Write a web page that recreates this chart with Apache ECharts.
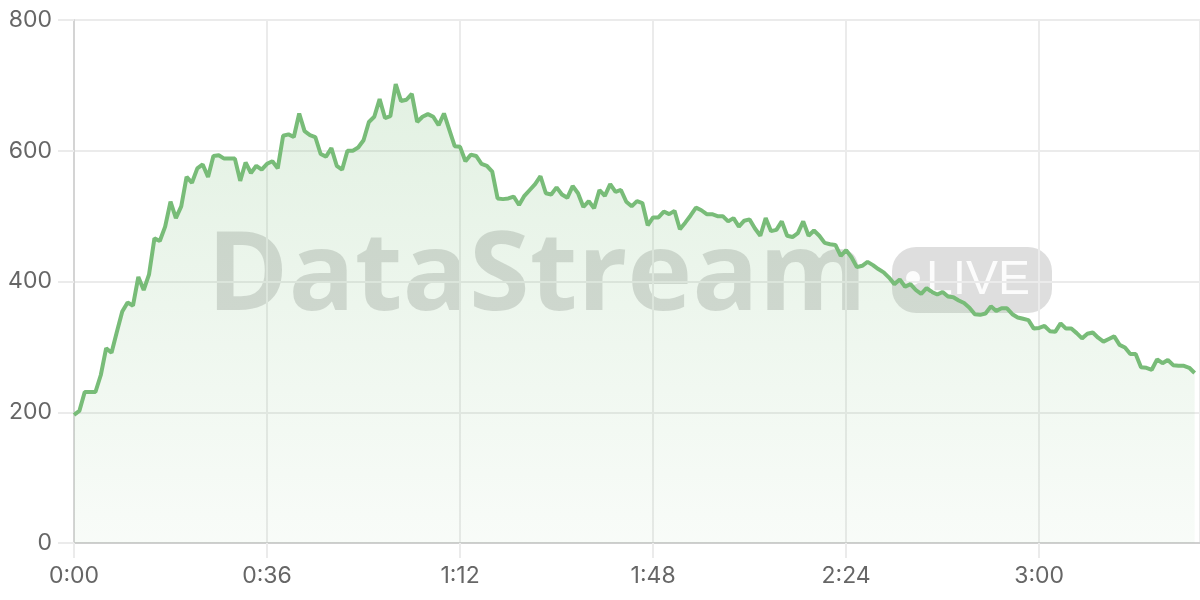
<!DOCTYPE html>
<html>
<head>
	<meta charset="utf-8">
	<title>DataStream</title>
	<script src="https://cdn.jsdelivr.net/npm/echarts@6/dist/echarts.min.js"></script>
	<style>
		html, body { margin: 0; padding: 0; background: #fff; }
	</style>
</head>
<body>
	<div id="main" style="width: 1200px; height: 600px;"></div>
	<script type="text/javascript">
		// viewers per second, 0:00 .. 3:29
		var viewers = [
			196, 202, 231, 231, 231, 257, 298, 291, 323, 354,
			368, 363, 407, 387, 411, 466, 462, 484, 522, 497,
			515, 560, 551, 573, 579, 560, 592, 593, 588, 588,
			588, 554, 582, 566, 577, 571, 580, 584, 573, 623,
			625, 621, 657, 630, 624, 621, 595, 591, 604, 577,
			571, 600, 600, 605, 616, 644, 652, 679, 650, 653,
			702, 676, 678, 687, 644, 652, 656, 652, 639, 657,
			632, 607, 606, 584, 594, 592, 580, 577, 568, 527,
			526, 527, 530, 517, 531, 540, 549, 561, 535, 533,
			544, 533, 528, 546, 535, 514, 523, 512, 540, 531,
			549, 537, 540, 522, 515, 523, 520, 486, 498, 498,
			507, 503, 508, 480, 490, 501, 513, 509, 503, 503,
			500, 500, 492, 497, 484, 493, 495, 481, 470, 497,
			477, 479, 492, 470, 468, 474, 492, 470, 478, 470,
			459, 457, 456, 439, 448, 437, 422, 424, 430, 425,
			419, 414, 406, 396, 403, 392, 396, 387, 381, 390,
			384, 380, 384, 377, 376, 371, 367, 360, 350, 349,
			351, 362, 355, 359, 359, 350, 345, 343, 341, 328,
			329, 332, 324, 323, 336, 328, 328, 321, 313, 320,
			322, 314, 308, 312, 316, 303, 299, 289, 289, 269,
			268, 265, 281, 275, 280, 272, 271, 271, 268, 260
		];
		// x axis: seconds, ticks every 36s
		var xMax = 210;
		var xStep = 36;
		// y axis
		var yMax = 800;
		var yStep = 200;

		var points = [];
		for (var i = 0; i < viewers.length; i++) {
			points.push([i, viewers[i]]);
		}

		function fmtTime(s) {
			var m = Math.floor(s / 60);
			var r = s % 60;
			return m + ':' + (r < 10 ? '0' + r : r);
		}

		var chart = echarts.init(document.getElementById('main'));
		var labelFont = { color: '#666', fontSize: 23, fontFamily: 'Inter, "Liberation Sans", sans-serif' };

		var option = {
			backgroundColor: '#fff',
			animation: false,
			grid: { left: 74, right: 0, top: 20, bottom: 57 },
			xAxis: {
				type: 'value',
				min: 0,
				max: xMax,
				interval: xStep,
				axisLine: { show: true, lineStyle: { color: '#cfcfcf', width: 2 } },
				axisTick: { show: true, length: 15, lineStyle: { color: '#ebebeb', width: 2 } },
				splitLine: { show: true, lineStyle: { color: '#ebebeb', width: 2 } },
				axisLabel: {
					color: labelFont.color,
					fontSize: labelFont.fontSize,
					fontFamily: labelFont.fontFamily,
					margin: 22,
					showMaxLabel: false,
					formatter: function (v) { return fmtTime(v); }
				}
			},
			yAxis: {
				type: 'value',
				min: 0,
				max: yMax,
				interval: yStep,
				axisLine: { show: true, lineStyle: { color: '#d4d4d4', width: 2 } },
				axisTick: { show: true, length: 16, lineStyle: { color: '#ebebeb', width: 2 } },
				splitLine: { show: true, lineStyle: { color: '#ebebeb', width: 2 } },
				axisLabel: {
					color: labelFont.color,
					fontSize: labelFont.fontSize,
					fontFamily: labelFont.fontFamily,
					margin: 22
				}
			},
			series: [{
				name: 'viewers',
				type: 'line',
				data: points,
				showSymbol: false,
				smooth: false,
				lineStyle: { color: '#78bc78', width: 4 },
				itemStyle: { color: '#78bc78' },
				areaStyle: {
					color: {
						type: 'linear', x: 0, y: 0, x2: 0, y2: 1,
						colorStops: [
							{ offset: 0, color: 'rgba(120, 188, 120, 0.30)' },
							{ offset: 1, color: 'rgba(120, 188, 120, 0.07)' }
						]
					}
				}
			}],
			//水印
			graphic: [{
				type: 'group',
				z: 100,
				children: [{
					type: 'text',
					left: 207,
					top: 224,
					style: {
						text: 'DataStream',
						font: 'bold 110px "Open Sans", "Liberation Sans", sans-serif',
						fill: 'rgba(0, 0, 0, 0.14)'
					}
				}, {
					type: 'rect',
					shape: { x: 892, y: 247, width: 160, height: 66, r: 24 },
					style: { fill: 'rgba(0, 0, 0, 0.13)' }
				}, {
					type: 'circle',
					shape: { cx: 913, cy: 278, r: 7 },
					style: { fill: 'rgba(255, 255, 255, 0.9)' }
				}, {
					type: 'text',
					left: 926,
					top: 257,
					style: {
						text: 'LIVE',
						font: '48px "Liberation Sans", Arial, sans-serif',
						fill: 'rgba(255, 255, 255, 0.9)'
					}
				}]
			}]
		};
		chart.setOption(option);
	</script>
</body>
</html>
